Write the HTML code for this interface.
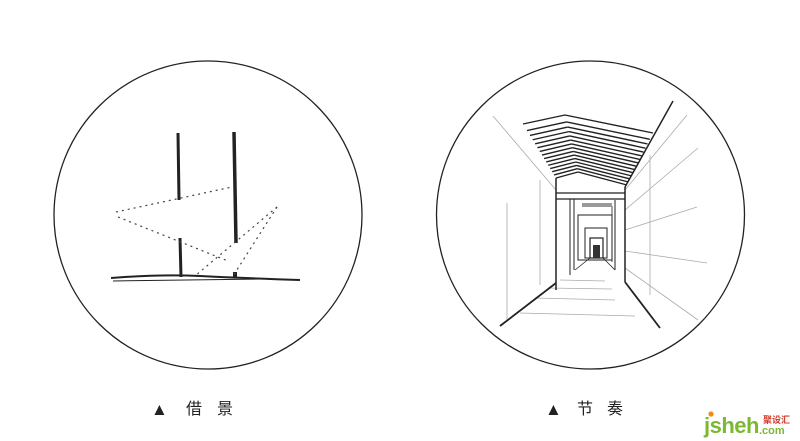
<!DOCTYPE html>
<html><head><meta charset="utf-8"><style>
html,body{margin:0;padding:0;background:#fff;}
svg{display:block;}
text{font-family:"Liberation Sans","Noto Sans CJK SC",sans-serif;}
</style></head><body>
<svg width="800" height="441" viewBox="0 0 800 441" xmlns="http://www.w3.org/2000/svg">
<rect width="800" height="441" fill="#fff"/>
<circle cx="208" cy="215" r="154" fill="none" stroke="#222" stroke-width="1.3"/>
<circle cx="590.5" cy="215" r="154" fill="none" stroke="#222" stroke-width="1.3"/>

<!-- LEFT SKETCH -->
<g stroke="#222" fill="none">
  <line x1="178" y1="133" x2="179" y2="200" stroke-width="3"/>
  <line x1="180" y1="238" x2="181" y2="277" stroke-width="3"/>
  <line x1="234" y1="132" x2="236" y2="243" stroke-width="3.5"/>
  <rect x="233" y="272" width="4" height="6" fill="#222" stroke="none"/>
  <path d="M111 278 Q160 274 200 276 T300 280" stroke-width="2"/>
  <line x1="113" y1="281" x2="260" y2="279" stroke-width="1"/>
  <g stroke-dasharray="2,4" stroke-width="1.2" stroke="#444">
    <line x1="116" y1="212" x2="232" y2="187"/>
    <line x1="118" y1="217" x2="228" y2="261"/>
    <line x1="277" y1="207" x2="195" y2="276"/>
    <line x1="277" y1="207" x2="233" y2="276"/>
  </g>
</g>

<!-- RIGHT SKETCH -->
<g stroke="#222" fill="none">
  <g stroke="#aaa" stroke-width="0.8">
    <line x1="493" y1="116" x2="556" y2="190"/>
    <line x1="507" y1="203" x2="507" y2="320"/>
    <line x1="540" y1="180" x2="540" y2="285"/>
    <line x1="625" y1="190" x2="687" y2="115"/>
    <line x1="625" y1="210" x2="698" y2="148"/>
    <line x1="625" y1="230" x2="697" y2="207"/>
    <line x1="625" y1="251" x2="707" y2="263"/>
    <line x1="625" y1="268" x2="698" y2="320"/>
    <line x1="650" y1="155" x2="650" y2="295"/>
    <line x1="520" y1="313" x2="635" y2="316"/>
    <line x1="535" y1="298" x2="615" y2="300"/>
    <line x1="548" y1="288" x2="612" y2="289"/>
    <line x1="560" y1="280" x2="605" y2="281"/>
  </g>
  <line x1="556" y1="178" x2="556" y2="290" stroke-width="1.5"/>
  <line x1="625" y1="187" x2="625" y2="282" stroke-width="1.5"/>
  <line x1="625" y1="187" x2="673" y2="101" stroke-width="1.5"/>
  <line x1="556" y1="283" x2="500" y2="326" stroke-width="1.8"/>
  <line x1="625" y1="282" x2="660" y2="328" stroke-width="1.8"/>
  <line x1="556" y1="193" x2="625" y2="193" stroke-width="1.2"/>
  <line x1="556" y1="199" x2="625" y2="199" stroke-width="1.2"/>
  <line x1="570" y1="199" x2="570" y2="275" stroke-width="1"/>
  <line x1="574" y1="199" x2="574" y2="270" stroke-width="1"/>
  <line x1="615" y1="200" x2="615" y2="270" stroke-width="1"/>
  <line x1="612" y1="206" x2="612" y2="262" stroke-width="0.8"/>
  <rect x="578" y="215" width="34" height="45" stroke-width="1"/>
  <rect x="585" y="228" width="22" height="30" stroke-width="1"/>
  <rect x="590" y="238" width="13" height="20" stroke-width="1.2"/>
  <rect x="593" y="245" width="7" height="13" fill="#333" stroke="none"/>
  <line x1="575" y1="270" x2="590" y2="258" stroke-width="0.8"/>
  <line x1="615" y1="270" x2="603" y2="258" stroke-width="0.8"/>
  <line x1="582" y1="205" x2="612" y2="205" stroke="#999" stroke-width="4"/>
  <g id="roof" stroke-width="1.4"></g>
</g>

<text x="151" y="415" font-size="17" fill="#222">▲</text>
<text x="186" y="414" font-size="16" fill="#222">借</text>
<text x="217" y="414" font-size="16" fill="#222">景</text>
<text x="545" y="415" font-size="17" fill="#222">▲</text>
<text x="577" y="414" font-size="16" fill="#222">节</text>
<text x="607" y="414" font-size="16" fill="#222">奏</text>

<text x="704" y="433" font-size="22" font-weight="bold" fill="#7cb832" letter-spacing="-0.5">jsheh</text>
<circle cx="711" cy="414" r="2.6" fill="#f08a1c"/>
<text x="759" y="434" font-size="11" font-weight="bold" fill="#7cb832">.com</text>
<text x="763" y="423" font-size="9" font-weight="bold" fill="#d23a2a">聚设汇</text>
</svg>
<script>
var g=document.getElementById('roof'),s='';
for(var i=0;i<15;i++){var t=Math.pow(i/14,0.8);
 var L=[523+33*t,124+54*t],R=[565+13*t,115+57*t],Q=[653-26*t,133+52*t];
 s+='<line x1="'+L[0]+'" y1="'+L[1]+'" x2="'+R[0]+'" y2="'+R[1]+'"/>';
 s+='<line x1="'+R[0]+'" y1="'+R[1]+'" x2="'+Q[0]+'" y2="'+Q[1]+'"/>';}
g.innerHTML=s;
</script>
</body></html>
